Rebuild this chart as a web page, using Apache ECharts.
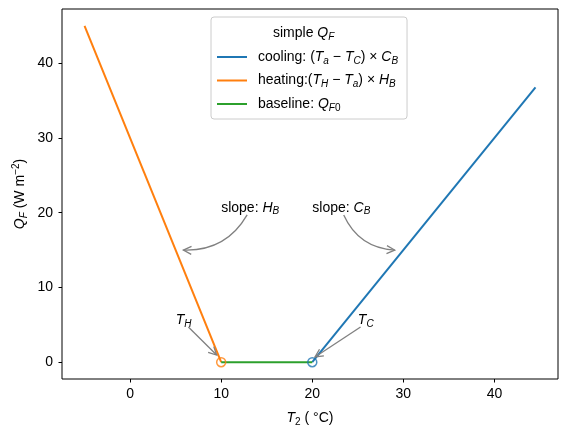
<!DOCTYPE html>
<html>
<head>
<meta charset="utf-8">
<script src="https://cdn.jsdelivr.net/npm/echarts@6/dist/echarts.min.js"></script>
<style>
html, body { margin: 0; padding: 0; background: #fff; }
#chart { width: 568px; height: 436px; }
</style>
</head>
<body>
<div id="chart"></div>
<script>
// data
var coolT = [20, 44.5];
var coolQ = [0, 36.75];
var heatT = [-5, 10];
var heatQ = [45, 0];
var baseT = [10, 20];
var baseQ = [0, 0];
var heatPoint = [10, 0];
var coolPoint = [20, 0];
var xTicks = [0, 10, 20, 30, 40];
var yTicks = [0, 10, 20, 30, 40];

// annotations: text, text anchor, arrow start, arrow tip, curvature
var annoText = ["slope: {i|H}{s|B}", "slope: {i|C}{s|B}", "{i|T}{s|H}", "{i|T}{s|C}"];
var annoAt = [[10, 20], [20, 20], [5, 5], [25, 5]];
var annoFrom = [[12.85, 19.7], [23.45, 19.7], [6.4, 4.7], [25.3, 4.7]];
var annoTo = [[5.85, 15], [29.05, 15], [9.5, 0.95], [20.3, 0.7]];
var annoRad = [-0.3, 0.3, 0, 0];

var FONT = "Liberation Sans";
var rich = {
  i: { fontStyle: "italic", fontSize: 14, fontFamily: FONT, lineHeight: 18 },
  s: { fontStyle: "italic", fontSize: 10, fontFamily: FONT, verticalAlign: "bottom", lineHeight: 9 },
  n: { fontSize: 10, fontFamily: FONT, verticalAlign: "bottom", lineHeight: 9 },
  p: { fontSize: 10, fontFamily: FONT, verticalAlign: "top", lineHeight: 9 }
};

var legendLabels = {
  cooling: "cooling: ({i|T}{s|a} − {i|T}{s|C}) × {i|C}{s|B}",
  heating: "heating:({i|T}{s|H} − {i|T}{s|a}) × {i|H}{s|B}",
  baseline: "baseline: {i|Q}{s|F}{n|0}"
};

function pairs(xs, ys) {
  return xs.map(function (x, i) { return [x, ys[i]]; });
}

var myChart = echarts.init(document.getElementById("chart"));

var option = {
  backgroundColor: "#fff",
  animation: false,
  textStyle: { fontFamily: FONT },
  grid: {
    left: 62, right: 10, top: 9, bottom: 57,
    show: true, borderColor: "#000", borderWidth: 1
  },
  legend: {
    data: ["cooling", "heating", "baseline"],
    orient: "vertical",
    left: 211,
    top: 17,
    padding: [31, 9, 6, 6],
    icon: "rect",
    itemWidth: 30,
    itemHeight: 2,
    itemGap: 5.5,
    borderColor: "#cccccc",
    borderWidth: 1,
    borderRadius: 3,
    backgroundColor: "rgba(255,255,255,0.8)",
    formatter: function (name) { return legendLabels[name]; },
    textStyle: {
      color: "#000", fontSize: 14, fontFamily: FONT, lineHeight: 18,
      padding: [0, 0, 0, 6], rich: rich
    }
  },
  graphic: [
    {
      type: "text", left: 273, top: 24, z: 100,
      style: { text: "simple {i|Q}{s|F}", rich: rich, fill: "#000", fontSize: 14, fontFamily: FONT, lineHeight: 18 }
    }
  ],
  xAxis: {
    type: "value",
    min: -7.475,
    max: 46.975,
    name: "{i|T}{n|2} ( °C)",
    nameLocation: "middle",
    nameGap: 30,
    nameTextStyle: { color: "#000", fontSize: 14, fontFamily: FONT, lineHeight: 18, rich: rich },
    splitLine: { show: false },
    axisLine: { show: false, onZero: false },
    axisTick: { show: true, inside: false, length: 3.5, customValues: xTicks, lineStyle: { color: "#000", width: 1 } },
    axisLabel: { color: "#000", fontSize: 14, fontFamily: FONT, margin: 8, customValues: xTicks }
  },
  yAxis: {
    type: "value",
    min: -2.25,
    max: 47.25,
    name: "{i|Q}{s|F} (W m{p|−2})",
    nameLocation: "middle",
    nameRotate: 90,
    nameGap: 33,
    nameMoveOverlap: false,
    nameTextStyle: { color: "#000", fontSize: 14, fontFamily: FONT, lineHeight: 18, rich: rich },
    splitLine: { show: false },
    axisLine: { show: false, onZero: false },
    axisTick: { show: true, inside: false, length: 3.5, customValues: yTicks, lineStyle: { color: "#000", width: 1 } },
    axisLabel: { color: "#000", fontSize: 14, fontFamily: FONT, margin: 9, customValues: yTicks }
  },
  series: [
    {
      name: "cooling", type: "line", symbol: "none",
      lineStyle: { color: "#1f77b4", width: 2 }, itemStyle: { color: "#1f77b4" },
      data: pairs(coolT, coolQ)
    },
    {
      name: "heating", type: "line", symbol: "none",
      lineStyle: { color: "#ff7f0e", width: 2 }, itemStyle: { color: "#ff7f0e" },
      data: pairs(heatT, heatQ)
    },
    {
      name: "baseline", type: "line", symbol: "none",
      lineStyle: { color: "#2ca02c", width: 2 }, itemStyle: { color: "#2ca02c" },
      data: pairs(baseT, baseQ)
    },
    {
      name: "T_H", type: "scatter", symbol: "circle", symbolSize: 9, z: 5,
      itemStyle: { color: "rgba(0,0,0,0)", borderColor: "#ff7f0e", borderWidth: 1.5 },
      data: [heatPoint]
    },
    {
      name: "T_C", type: "scatter", symbol: "circle", symbolSize: 9, z: 5,
      itemStyle: { color: "rgba(0,0,0,0)", borderColor: "#1f77b4", borderWidth: 1.5 },
      data: [coolPoint]
    },
    {
      name: "annotations", type: "custom", coordinateSystem: "cartesian2d",
      silent: true, clip: false, z: 6,
      data: annoAt.map(function (p, i) { return [p[0], p[1], i]; }),
      renderItem: function (params, api) {
        var i = params.dataIndex;
        var at = api.coord(annoAt[i]);
        var p0 = api.coord(annoFrom[i]);
        var p1 = api.coord(annoTo[i]);
        var f = annoRad[i];
        var dx = p1[0] - p0[0], dy = p1[1] - p0[1];
        var cx = (p0[0] + p1[0]) / 2 - f * dy;
        var cy = (p0[1] + p1[1]) / 2 + f * dx;
        // arrow head along the tangent at the tip
        var tx = p1[0] - cx, ty = p1[1] - cy;
        var len = Math.sqrt(tx * tx + ty * ty);
        tx /= len; ty /= len;
        var L = 8, W = 4;
        var h1 = [p1[0] - L * tx - W * ty, p1[1] - L * ty + W * tx];
        var h2 = [p1[0] - L * tx + W * ty, p1[1] - L * ty - W * tx];
        var lineStyle = { stroke: "#808080", lineWidth: 1.3, fill: null };
        return {
          type: "group",
          children: [
            {
              type: "bezierCurve",
              shape: { x1: p0[0], y1: p0[1], x2: p1[0], y2: p1[1], cpx1: cx, cpy1: cy },
              style: lineStyle
            },
            {
              type: "polyline",
              shape: { points: [h1, p1, h2] },
              style: lineStyle
            },
            {
              type: "text",
              x: at[0], y: at[1] + 4,
              style: {
                text: annoText[i], rich: rich, fill: "#000",
                fontSize: 14, fontFamily: FONT, lineHeight: 18,
                align: "left", verticalAlign: "bottom"
              }
            }
          ]
        };
      }
    }
  ]
};

myChart.setOption(option);
</script>
</body>
</html>
